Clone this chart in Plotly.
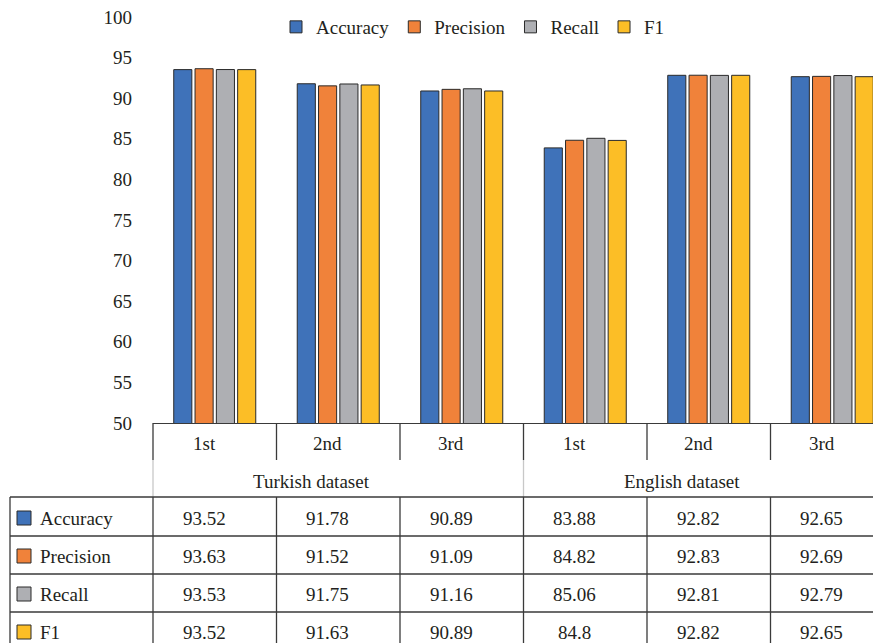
import plotly.graph_objects as go

categories = ["1st", "2nd", "3rd", "1st", "2nd", "3rd"]
groups = ["Turkish dataset", "English dataset"]
metrics = ["Accuracy", "Precision", "Recall", "F1"]
accuracy = [93.52, 91.78, 90.89, 83.88, 92.82, 92.65]
precision = [93.63, 91.52, 91.09, 84.82, 92.83, 92.69]
recall = [93.53, 91.75, 91.16, 85.06, 92.81, 92.79]
f1 = [93.52, 91.63, 90.89, 84.8, 92.82, 92.65]
colors = ["#3F72B9", "#F0823A", "#AEAFB3", "#FCBE26"]

series = [accuracy, precision, recall, f1]
FONT = "Liberation Serif"
TXT = "#231f20"
LINE = "#3a3a3a"

OFF = 8  # browser body margin
WIN_W, WIN_H = 881, 643
W, H = WIN_W - OFF, WIN_H - OFF
PLOT_L, PLOT_T, PLOT_B = 153, 17, 423  # window pixels
ML, MT = PLOT_L - OFF, PLOT_T - OFF
MB = WIN_H - PLOT_B
MR = 0
PW, PH = W - ML - MR, H - MT - MB
COLW = 123.5
XMIN = -0.5
XMAX = XMIN + PW / COLW

def py(ypix):
    return (PLOT_B - ypix) / PH

def px(xpix):
    return (xpix - PLOT_L) / PW

def dx2paper(xd):
    return (xd - XMIN) / (XMAX - XMIN)

xs = list(range(len(categories)))

fig = go.Figure()
for name, vals, c in zip(metrics, series, colors):
    fig.add_trace(go.Bar(
        x=xs, y=vals, name=name,
        marker=dict(color=c, line=dict(color="#2a2a2a", width=1)),
    ))

shapes = []
annotations = []
SHIFT = -0.085  # text offset in x units
tf = dict(size=19, family=FONT, color=TXT)

def ann(x, y, text, xref="x", xanchor="center"):
    annotations.append(dict(x=x, y=y, xref=xref, yref="paper", text=text, showarrow=False,
                            xanchor=xanchor, yanchor="middle", font=tf))

for i, cat in enumerate(categories):
    ann(i + SHIFT, py(443), cat)
n_per = 3
for g, gname in enumerate(groups):
    center = g * n_per + (n_per - 1) / 2
    ann(center - 0.22, py(481), gname)

def vline(x, y0, y1, color=LINE):
    shapes.append(dict(type="line", xref="paper", yref="paper", x0=x, x1=x,
                       y0=py(y0), y1=py(y1), line=dict(color=color, width=1.3)))

def hline(y, x0, x1, color=LINE):
    shapes.append(dict(type="line", xref="paper", yref="paper", x0=x0, x1=x1,
                       y0=py(y), y1=py(y), line=dict(color=color, width=1.3)))

for k in range(len(categories)):
    xb = dx2paper(k - 0.5)
    vline(xb, 423, 460)
    if k % n_per == 0:
        vline(xb, 460, 497, "#c8c8c8")
    vline(xb, 497, 660)

row_y = [518, 556, 594, 632]
hlines = [497, 536, 574, 612]
left_x = px(10)
for yl in hlines:
    hline(yl, left_x, 1.0)
vline(left_x, 497, 660)

for r, (name, vals, c) in enumerate(zip(metrics, series, colors)):
    yc = row_y[r]
    shapes.append(dict(type="rect", xref="paper", yref="paper",
                       x0=px(17), x1=px(31), y0=py(yc - 7), y1=py(yc + 7),
                       fillcolor=c, line=dict(color="#2a2a2a", width=1)))
    ann(px(38), py(yc), name, xref="paper", xanchor="left")
    for i, v in enumerate(vals):
        ann(i + SHIFT, py(yc), f"{v:g}")

fig.update_layout(
    width=W, height=H,
    margin=dict(l=ML, r=MR, t=MT, b=MB, pad=0),
    paper_bgcolor="white", plot_bgcolor="white",
    barmode="group", bargap=0.31, bargroupgap=0.15,
    font=dict(family=FONT, size=19, color=TXT),
    showlegend=True,
    legend=dict(orientation="h", x=px(473), xanchor="center",
                y=py(27), yanchor="middle", font=tf,
                bgcolor="rgba(0,0,0,0)", itemclick=False),
    xaxis=dict(range=[XMIN, XMAX], showticklabels=False, showgrid=False, zeroline=False,
               showline=True, linecolor=LINE, linewidth=1.3, ticks=""),
    yaxis=dict(range=[50, 100], tickvals=list(range(50, 101, 5)), showgrid=False, zeroline=False,
               showline=False, ticks="", ticklabelstandoff=20, tickfont=tf,
               ticklabeloverflow="allow"),
    shapes=shapes, annotations=annotations,
)

fig.write_html("out.html")
